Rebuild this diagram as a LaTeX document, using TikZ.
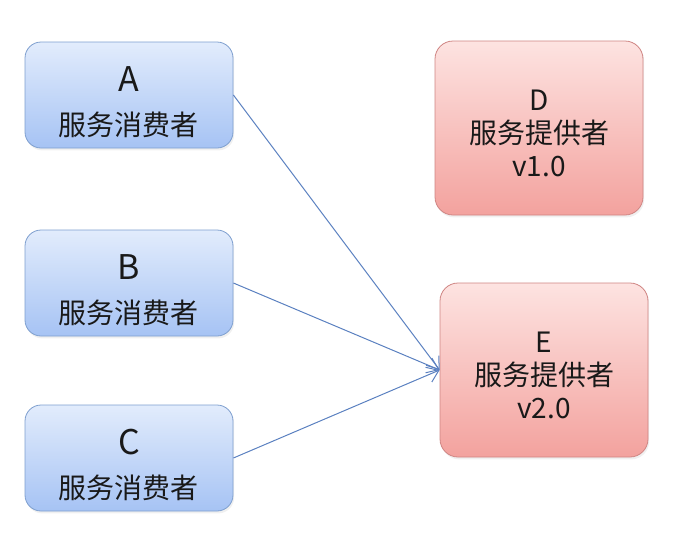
\documentclass[tikz,border=0pt]{standalone}
\usepackage{fontspec}
\usepackage{xcolor}
\usepackage{tikz}
\usetikzlibrary{arrows.meta,shadows}
\newfontfamily\cjk{Noto Sans CJK SC}

\definecolor{bluetop}{HTML}{E2ECFC}
\definecolor{bluebot}{HTML}{A6C3F4}
\definecolor{blueedge}{HTML}{7E9FCF}
\definecolor{redtop}{HTML}{FDE3E1}
\definecolor{redbot}{HTML}{F3A29E}
\definecolor{rededge}{HTML}{CF8583}
\definecolor{linkcol}{HTML}{5A80C0}

\newcommand{\bigletter}[1]{\rule{0pt}{20pt}{\fontsize{17}{22}\selectfont #1}}
\newcommand{\topletter}[1]{\rule{0pt}{15.5pt}#1}

\tikzset{
    consumer/.style={draw=blueedge, top color=bluetop, bottom color=bluebot,
        rounded corners=8pt, minimum width=104pt, minimum height=53pt,
        align=center, font=\cjk\fontsize{14}{22}\selectfont, text=black!90,
        drop shadow={opacity=0.12, shadow xshift=0.6pt, shadow yshift=-1.2pt}},
    provider/.style={draw=rededge, top color=redtop, bottom color=redbot,
        rounded corners=9pt, minimum width=104pt, minimum height=87pt,
        align=center, font=\cjk\fontsize{14}{16.5}\selectfont, text=black!90,
        drop shadow={opacity=0.12, shadow xshift=0.6pt, shadow yshift=-1.2pt}},
    link/.style={draw=linkcol, line width=0.5pt, -{Straight Barb[length=5.5pt,width=8pt]}}
}

\begin{document}
\begin{tikzpicture}[x=0.5pt, y=-0.5pt]
        \useasboundingbox (0,0) rectangle (692,543);
        \node[consumer] (A) at (129, 95) {\bigletter{A}\\服务消费者};
        \node[consumer] (B) at (129, 283) {\bigletter{B}\\服务消费者};
        \node[consumer] (C) at (129, 458) {\bigletter{C}\\服务消费者};
        \node[provider] (D) at (539, 128) {\topletter{D}\\服务提供者\\v1.0};
        \node[provider] (E) at (544, 370) {\topletter{E}\\服务提供者\\v2.0};
        \draw[link] (A.east) -- (E.west);
        \draw[link] (B.east) -- (E.west);
        \draw[link] (C.east) -- (E.west);
    \end{tikzpicture}
\end{document}
